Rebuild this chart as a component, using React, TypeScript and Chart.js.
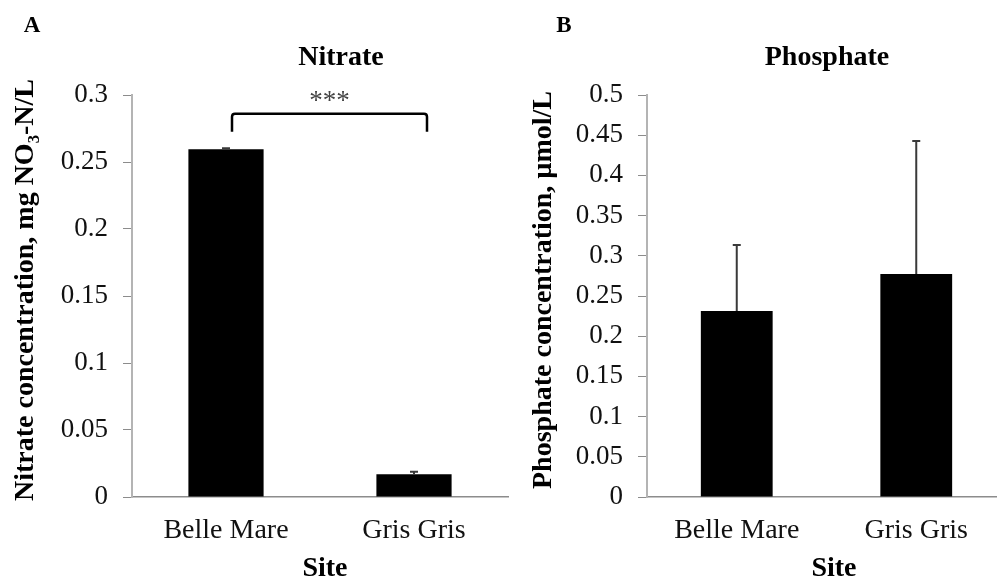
import React, { useEffect, useRef } from 'react';
import { Chart, registerables } from 'chart.js';

Chart.register(...registerables);

// ---- data ----
const sites = ['Belle Mare', 'Gris Gris'];

const nitrateMeans = [0.2595, 0.0169];
const nitrateErrors = [0.0007, 0.002];
const nitrateTickValues = [0, 0.05, 0.1, 0.15, 0.2, 0.25, 0.3];
const nitrateTickLabels = ['0', '0.05', '0.1', '0.15', '0.2', '0.25', '0.3'];

const phosphateMeans = [0.2313, 0.2774];
const phosphateErrors = [0.0821, 0.1654];
const phosphateTickValues = [0, 0.05, 0.1, 0.15, 0.2, 0.25, 0.3, 0.35, 0.4, 0.45, 0.5];
const phosphateTickLabels = ['0', '0.05', '0.1', '0.15', '0.2', '0.25', '0.3', '0.35', '0.4', '0.45', '0.5'];

// significance annotation between the two nitrate sites
const nitrateSignificance = { label: '***', level: 0.286 };

const FONT = "'Liberation Serif', 'Times New Roman', serif";

function errorBarPlugin(means: number[], errors: number[]) {
  return {
    id: 'errorBars',
    afterDatasetsDraw(chart: any) {
      const meta = chart.getDatasetMeta(0);
      const ys = chart.scales.y;
      const ctx = chart.ctx;
      ctx.save();
      ctx.strokeStyle = '#3a3a3a';
      ctx.lineWidth = 2;
      means.forEach((m, i) => {
        const x = meta.data[i].x;
        const y0 = ys.getPixelForValue(m);
        const y1 = ys.getPixelForValue(m + errors[i]);
        ctx.beginPath();
        ctx.moveTo(x, y0);
        ctx.lineTo(x, y1);
        ctx.moveTo(x - 4, y1);
        ctx.lineTo(x + 4, y1);
        ctx.stroke();
      });
      ctx.restore();
    },
  };
}

function textPlugin(opts: { letter: string; letterX: number; title: string; titleX: number; yTitle: string; yTitleX: number; xTitle: string; xTitleX: number }) {
  return {
    id: 'texts',
    afterDraw(chart: any) {
      const ctx = chart.ctx;
      const area = chart.chartArea;
      ctx.save();
      ctx.fillStyle = '#000';
      ctx.textAlign = 'center';
      ctx.textBaseline = 'alphabetic';
      ctx.font = `bold 23px ${FONT}`;
      ctx.fillText(opts.letter, opts.letterX, 32);
      ctx.font = `bold 28px ${FONT}`;
      ctx.fillText(opts.title, opts.titleX, 65);
      ctx.fillText(opts.xTitle, opts.xTitleX, 576);
      ctx.translate(opts.yTitleX, (area.top + area.bottom) / 2 - 6);
      ctx.rotate(-Math.PI / 2);
      ctx.textBaseline = 'middle';
      ctx.fillText(opts.yTitle, 0, 0);
      ctx.restore();
    },
  };
}

const bracketPlugin = {
  id: 'bracket',
  afterDraw(chart: any) {
    const xs = chart.scales.x;
    const ys = chart.scales.y;
    const ctx = chart.ctx;
    const x0 = xs.getPixelForValue(0) + 6;
    const x1 = xs.getPixelForValue(1) + 13;
    const yTop = ys.getPixelForValue(nitrateSignificance.level);
    const yLeg = yTop + 18;
    ctx.save();
    ctx.strokeStyle = '#000';
    ctx.lineWidth = 2.5;
    ctx.lineJoin = 'round';
    ctx.beginPath();
    ctx.moveTo(x0, yLeg);
    ctx.lineTo(x0, yTop + 3);
    ctx.quadraticCurveTo(x0, yTop, x0 + 3, yTop);
    ctx.lineTo(x1 - 3, yTop);
    ctx.quadraticCurveTo(x1, yTop, x1, yTop + 3);
    ctx.lineTo(x1, yLeg);
    ctx.stroke();
    ctx.fillStyle = '#444';
    ctx.font = `27px ${FONT}`;
    ctx.textAlign = 'center';
    ctx.textBaseline = 'middle';
    ctx.fillText(nitrateSignificance.label, (x0 + x1) / 2, yTop - 12);
    ctx.restore();
  },
};

function buildConfig(means: number[], max: number, tickValues: number[], tickLabels: string[], yWidth: number, padRight: number, plugins: any[]): any {
  return {
    type: 'bar',
    data: {
      labels: sites,
      datasets: [
        {
          data: means,
          backgroundColor: '#000',
          borderColor: '#000',
          borderWidth: 0,
          categoryPercentage: 1,
          barPercentage: 0.4,
        },
      ],
    },
    options: {
      responsive: false,
      animation: false,
      events: [],
      layout: { padding: { top: 95, left: 0, right: padRight, bottom: 0 } },
      plugins: { legend: { display: false }, title: { display: false }, tooltip: { enabled: false } },
      scales: {
        x: {
          type: 'category',
          grid: { display: false, drawTicks: false },
          border: { display: true, color: '#8c8c8c', width: 1.5 },
          ticks: { color: '#111', padding: 17, font: { family: FONT, size: 28 }, maxRotation: 0 },
          afterFit: (s: any) => { s.height = 82; },
        },
        y: {
          min: 0,
          max,
          grid: { display: true, drawOnChartArea: false, drawTicks: true, tickLength: 9, color: '#8c8c8c', lineWidth: 1 },
          border: { display: true, color: '#b4b4b4', width: 2 },
          afterBuildTicks: (s: any) => { s.ticks = tickValues.map((v) => ({ value: v })); },
          ticks: {
            color: '#111',
            padding: 15,
            font: { family: FONT, size: 27 },
            callback: (_v: any, i: number) => tickLabels[i],
          },
          afterFit: (s: any) => { s.width = yWidth; },
        },
      },
    },
    plugins,
  };
}

export default function App() {
  const leftRef = useRef<HTMLCanvasElement>(null);
  const rightRef = useRef<HTMLCanvasElement>(null);

  useEffect(() => {
    const left = new Chart(
      leftRef.current as HTMLCanvasElement,
      buildConfig(nitrateMeans, 0.3, nitrateTickValues, nitrateTickLabels, 132, 12, [
        errorBarPlugin(nitrateMeans, nitrateErrors),
        bracketPlugin,
        textPlugin({
          letter: 'A', letterX: 32,
          title: 'Nitrate', titleX: 341,
          yTitle: 'Nitrate concentration, mg NO\u2083-N/L', yTitleX: 26,
          xTitle: 'Site', xTitleX: 325,
        }),
      ])
    );
    const right = new Chart(
      rightRef.current as HTMLCanvasElement,
      buildConfig(phosphateMeans, 0.5, phosphateTickValues, phosphateTickLabels, 127, 0, [
        errorBarPlugin(phosphateMeans, phosphateErrors),
        textPlugin({
          letter: 'B', letterX: 44,
          title: 'Phosphate', titleX: 307,
          yTitle: 'Phosphate concentration, \u00b5mol/L', yTitleX: 24,
          xTitle: 'Site', xTitleX: 314,
        }),
      ])
    );
    return () => {
      left.destroy();
      right.destroy();
    };
  }, []);

  return (
    <div style={{ position: 'absolute', left: 0, top: 0, width: 997, height: 579, overflow: 'hidden', background: '#fff' }}>
      <canvas ref={leftRef} width={520} height={579} style={{ position: 'absolute', left: 0, top: 0, display: 'block' }} />
      <canvas ref={rightRef} width={486} height={579} style={{ position: 'absolute', left: 520, top: 0, display: 'block' }} />
    </div>
  );
}
